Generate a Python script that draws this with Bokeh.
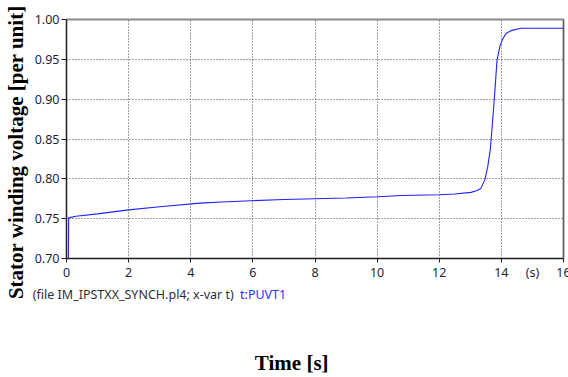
import math
from bokeh.plotting import figure
from bokeh.models import Range1d, FixedTicker, LinearAxis, Span, Grid
from bokeh.embed import file_html
from bokeh.resources import INLINE

# ---- data ----
t = [0.0, 0.06, 0.07, 0.3, 1.0, 2.0, 3.0, 4.3, 5.0, 5.95, 7.0, 8.0, 9.0, 10.0, 10.8,
     12.0, 12.5, 13.02, 13.2, 13.34, 13.47, 13.56, 13.64, 13.67, 13.77, 13.86,
     13.96, 14.05, 14.15, 14.31, 14.63, 15.0, 16.0]
v = [0.700, 0.700, 0.751, 0.753, 0.756, 0.761, 0.765, 0.7695, 0.771, 0.7725, 0.774,
     0.775, 0.776, 0.7775, 0.779, 0.780, 0.781, 0.783, 0.785, 0.788, 0.799, 0.815,
     0.836, 0.849, 0.899, 0.949, 0.9675, 0.976, 0.9825, 0.986, 0.989, 0.989, 0.989]

x_ticks = [0, 2, 4, 6, 8, 10, 12, 14, 16]
x_unit_label = "(s)"
y_ticks = [0.70, 0.75, 0.80, 0.85, 0.90, 0.95, 1.00]
y_tick_labels = ["0.70", "0.75", "0.80", "0.85", "0.90", "0.95", "1.00"]
y_title = "Stator winding voltage [per unit]"
x_title = "Time [s]"
caption_file = "(file IM_IPSTXX_SYNCH.pl4; x-var t)"
caption_var = "t:PUVT1"

# ---- layout constants (placement of the texts along the axes) ----
UNIT_POS = 15
CAP_FILE_POS = 2.15
CAP_VAR_POS = 6.33
XTITLE_POS = 7.25
YTITLE_PAD = "\u00a0" * 5   # invisible padding that lowers the centred y title

W, H = 568, 377
p = figure(width=W, height=H, output_backend="svg", toolbar_location=None,
           x_range=Range1d(0, 16), y_range=Range1d(0.70, 1.00),
           x_axis_type=None, y_axis_type=None,
           min_border_left=65, min_border_right=5, min_border_top=19,
           min_border_bottom=118)
p.border_fill_color = "white"
p.background_fill_color = "white"
p.outline_line_color = "#8a8a8a"
p.outline_line_width = 2

FONT = "Noto Sans"
FSIZE = "12.5px"
TCOL = "#1e1e38"
DARK = "#222222"


def blank_axis(ax):
    ax.axis_line_color = None
    ax.major_tick_line_color = None
    ax.minor_tick_line_color = None
    ax.major_tick_out = 0
    ax.major_tick_in = 0
    ax.minor_tick_out = 0
    ax.minor_tick_in = 0


# grids
xg = Grid(dimension=0, ticker=FixedTicker(ticks=x_ticks))
yg = Grid(dimension=1, ticker=FixedTicker(ticks=y_ticks))
for g in (xg, yg):
    g.grid_line_color = "#444444"
    g.grid_line_dash = "1 2"
    g.grid_line_width = 1
    p.add_layout(g)

# primary x axis: labels at the major ticks, visible tick marks as minor ticks
xa = LinearAxis(ticker=FixedTicker(ticks=x_ticks + [UNIT_POS], minor_ticks=x_ticks),
                major_label_overrides={UNIT_POS: x_unit_label})
xa.axis_line_color = DARK
xa.major_tick_line_color = None
xa.major_tick_out = 0
xa.major_tick_in = 0
xa.minor_tick_line_color = DARK
xa.minor_tick_out = 4
xa.minor_tick_in = 0
xa.major_label_standoff = 1
xa.major_label_text_font = FONT
xa.major_label_text_font_size = FSIZE
xa.major_label_text_color = TCOL
p.add_layout(xa, "below")

# caption line (two colours) and x title
cap1 = LinearAxis(ticker=FixedTicker(ticks=[CAP_FILE_POS]),
                  major_label_overrides={CAP_FILE_POS: caption_file})
blank_axis(cap1)
cap1.major_label_standoff = 2
cap1.major_label_text_font = FONT
cap1.major_label_text_font_size = FSIZE
cap1.major_label_text_color = "#2e2e3a"
p.add_layout(cap1, "below")

cap2 = LinearAxis(ticker=FixedTicker(ticks=[CAP_VAR_POS]),
                  major_label_overrides={CAP_VAR_POS: caption_var})
blank_axis(cap2)
cap2.major_label_standoff = -20
cap2.major_label_text_font = FONT
cap2.major_label_text_font_size = FSIZE
cap2.major_label_text_color = "#3030ff"
p.add_layout(cap2, "below")

xt = LinearAxis(ticker=FixedTicker(ticks=[XTITLE_POS]),
                major_label_overrides={XTITLE_POS: x_title})
blank_axis(xt)
xt.major_label_standoff = 45
xt.major_label_text_font = "Liberation Serif"
xt.major_label_text_font_style = "bold"
xt.major_label_text_font_size = "21px"
xt.major_label_text_color = "#000000"
p.add_layout(xt, "below")

# primary y axis with the y title as its axis label
ya = LinearAxis(ticker=FixedTicker(ticks=y_ticks),
                major_label_overrides=dict(zip(y_ticks, y_tick_labels)))
ya.axis_line_color = DARK
ya.major_tick_line_color = DARK
ya.major_tick_out = 5
ya.major_tick_in = 0
ya.minor_tick_line_color = None
ya.major_label_standoff = 2
ya.major_label_text_font = FONT
ya.major_label_text_font_size = FSIZE
ya.major_label_text_color = TCOL
ya.axis_label = y_title + YTITLE_PAD
ya.axis_label_standoff = 4
ya.axis_label_text_font = "Liberation Serif"
ya.axis_label_text_font_style = "bold"
ya.axis_label_text_font_size = "21px"
ya.axis_label_text_color = "#000000"
p.add_layout(ya, "left")

p.add_layout(Span(location=16, dimension="height", line_color="#333333", line_width=1))

p.line(t, v, line_color="#2020ff", line_width=1.1)

open("out.html", "w").write(file_html(p, INLINE))
